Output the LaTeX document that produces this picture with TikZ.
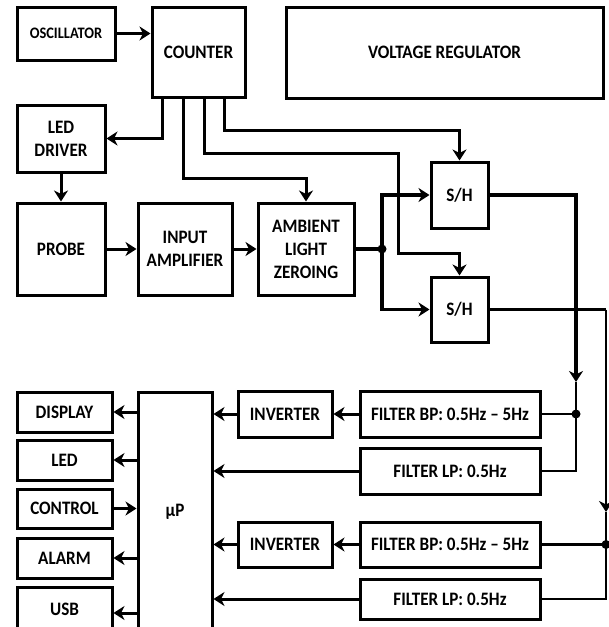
\documentclass[tikz,border=0pt]{standalone}
\usepackage{fontspec}
\setmainfont{Carlito}[FakeStretch=0.9]
\usetikzlibrary{arrows.meta}

\begin{document}
\begin{tikzpicture}[x=1pt, y=-1pt,
    blk/.style={draw, rectangle, line width=3pt, inner sep=0pt, align=center, font=\fontsize{19}{23}\selectfont\bfseries},
    arrow/.style={-{Stealth[length=11pt, width=14pt, inset=3.5pt]}, line width=3pt},
    wire/.style={line width=2.6pt},
    heavy/.style={line width=3.8pt},
    dot/.style={circle, fill, inner sep=0pt, minimum size=9pt}
]
    \useasboundingbox (0,0) rectangle (609,627);

    % top row
    \node[blk, minimum width=98pt, minimum height=53pt, font=\fontsize{16}{20}\selectfont\bfseries] (osc) at (66,33.5) {OSCILLATOR};
    \node[blk, minimum width=93pt, minimum height=90pt] (cnt) at (198.5,52) {COUNTER};
    \node[blk, minimum width=317pt, minimum height=91pt] (vreg) at (444.5,52.5) {VOLTAGE REGULATOR};

    % sensor chain
    \node[blk, minimum width=88pt, minimum height=67pt] (ledd) at (61,138.5) {LED\\DRIVER};
    \node[blk, minimum width=88pt, minimum height=92pt] (probe) at (61,249) {PROBE};
    \node[blk, minimum width=94pt, minimum height=92pt] (inamp) at (185,249) {INPUT\\AMPLIFIER};
    \node[blk, minimum width=96pt, minimum height=92pt] (amb) at (306,249) {AMBIENT\\LIGHT\\ZEROING};
    \node[blk, minimum width=57pt, minimum height=66pt] (sh1) at (459.5,195) {S/H};
    \node[blk, minimum width=57pt, minimum height=65pt] (sh2) at (459.5,309.5) {S/H};

    % outputs
    \node[blk, minimum width=95pt, minimum height=40pt] (disp) at (64.5,412) {DISPLAY};
    \node[blk, minimum width=95pt, minimum height=40pt] (ledo) at (64.5,460) {LED};
    \node[blk, minimum width=95pt, minimum height=39pt] (ctrl) at (64.5,508.5) {CONTROL};
    \node[blk, minimum width=95pt, minimum height=40pt] (alarm) at (64.5,558) {ALARM};
    \node[blk, minimum width=95pt, minimum height=44pt] (usb) at (64.5,609) {USB};
    \node[blk, minimum width=74pt, minimum height=240pt] (up) at (175,512) {µP};

    % filters
    \node[blk, minimum width=94pt, minimum height=46pt] (inv1) at (285,414) {INVERTER};
    \node[blk, minimum width=94pt, minimum height=45pt] (inv2) at (285,544.5) {INVERTER};
    \node[blk, minimum width=180pt, minimum height=46pt] (bp1) at (450,414) {FILTER BP: 0.5Hz -- 5Hz};
    \node[blk, minimum width=180pt, minimum height=46pt] (lp1) at (450,471) {FILTER LP: 0.5Hz};
    \node[blk, minimum width=180pt, minimum height=45pt] (bp2) at (450,544.5) {FILTER BP: 0.5Hz -- 5Hz};
    \node[blk, minimum width=180pt, minimum height=40pt] (lp2) at (450,599) {FILTER LP: 0.5Hz};

    \node[dot] (split) at (382,249) {};
    \node[dot] (tapA) at (576,414) {};
    \node[dot] (tapB) at (606,544.5) {};
    \coordinate (tipA) at (576,382);
    \coordinate (tipB) at (606,512);

    \draw[arrow] (osc.east) -- (osc.east -| cnt.west);
    \draw[arrow] ([xshift=12pt]cnt.south west) |- (ledd.east);
    \draw[arrow] (ledd) -- (probe);
    \draw[arrow] (probe) -- (inamp);
    \draw[arrow] (inamp) -- (amb);
    \draw[arrow] ([xshift=33pt]cnt.south west) -- ++(0,80) -| (amb.north);
    \draw[arrow, line width=2.4pt] ([xshift=54pt]cnt.south west) -- ++(0,55) -- ++(194,0) -- ++(0,100) -| (sh2.north);
    \draw[arrow, line width=3.6pt] ([xshift=74pt]cnt.south west) -- ++(0,32) -| (sh1.north);

    \draw[heavy] (amb.east) -- (split.center);
    \draw[arrow, heavy] (split.center) |- (sh1.west);
    \draw[arrow, heavy] (split.center) |- (sh2.west);

    \draw[arrow, heavy] (sh1.east) -| (tipA);
    \draw[wire] (tipA) -- (tapA.center) |- (lp1.east);
    \draw[wire] (tapA.center) -- (bp1.east);
    \draw[heavy] (sh2.east) -- (sh2.east -| tipB);
    \draw[arrow, wire] (sh2.east -| tipB) -- (tipB);
    \draw[wire] (tipB) -- (tapB.center) |- (lp2.east);
    \draw[wire] (tapB.center) -- (bp2.east);

    \draw[arrow] (bp1) -- (inv1);
    \draw[arrow] (bp2) -- (inv2);
    \draw[arrow] (inv1) -- (inv1 -| up.east);
    \draw[arrow] (inv2) -- (inv2 -| up.east);
    \draw[arrow] (lp1.west) -- (lp1.west -| up.east);
    \draw[arrow] (lp2.west) -- (lp2.west -| up.east);

    \draw[arrow] (disp.east -| up.west) -- (disp.east);
    \draw[arrow] (ledo.east -| up.west) -- (ledo.east);
    \draw[arrow] (ctrl.east) -- (ctrl.east -| up.west);
    \draw[arrow] (alarm.east -| up.west) -- (alarm.east);
    \draw[arrow, {Stealth[length=11pt, width=14pt, inset=3.5pt]}-] ([yshift=-4pt]usb.east) -- ([yshift=-4pt]usb.east -| up.west);
\end{tikzpicture}
\end{document}
